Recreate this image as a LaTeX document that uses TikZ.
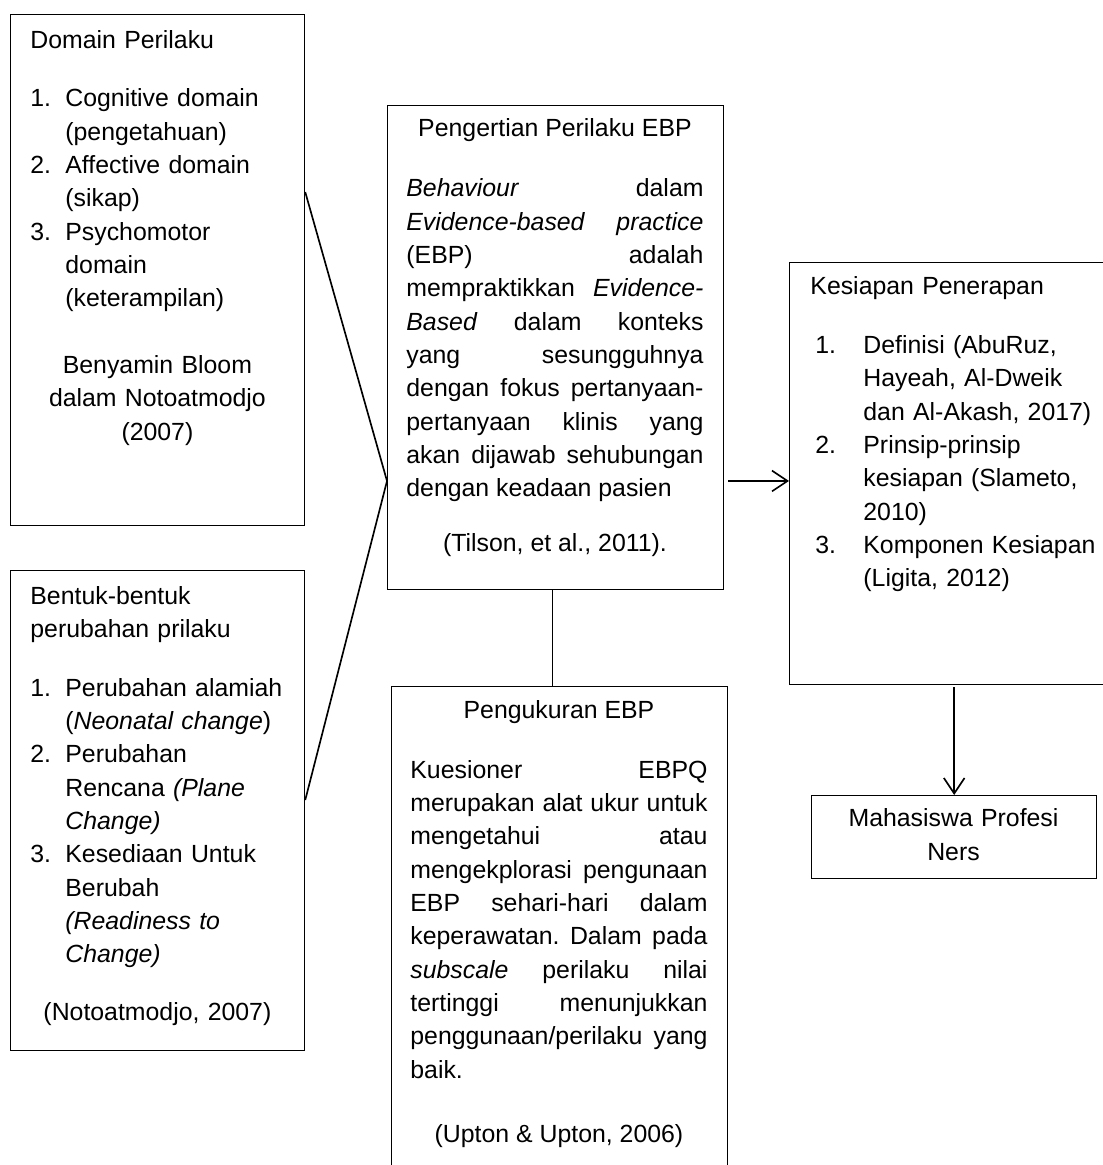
\documentclass[tikz,border=0pt]{standalone}
\usepackage{fontspec}
\setmainfont{Liberation Sans}
\usetikzlibrary{arrows.meta}
\tikzset{
  pbox/.style={draw, line width=0.6pt, inner sep=0pt, anchor=north west},
  ptext/.style={inner sep=0pt, anchor=base west, font=\fontsize{12}{16.1}\selectfont},
  link/.style={line width=0.8pt},
  arr/.style={line width=0.8pt, -{Straight Barb[length=7.5pt,width=10pt]}}
}
\newcommand{\itm}[3]{\par\hangindent=#1\hangafter=1\noindent\makebox[#1][l]{#2}#3}
\frenchspacing
\hyphenpenalty=10000
\tolerance=10000
\hbadness=10000

\begin{document}
\begin{tikzpicture}[x=0.483pt, y=-0.483pt]
  \useasboundingbox (0,0) rectangle (1102,1165);
  % boxes
  \node[pbox, minimum width=142pt, minimum height=246.8pt] (A) at (10,14) {};
  \node[pbox, minimum width=142pt, minimum height=231.8pt] (B) at (10,570) {};
  \node[pbox, minimum width=162.3pt, minimum height=233.8pt] (C) at (387,105) {};
  \node[pbox, minimum width=162.3pt, minimum height=238.6pt] (D) at (391,686) {};
  \node[pbox, minimum width=154.1pt, minimum height=203.8pt] (E) at (789,262) {};
  \node[pbox, minimum width=137.7pt, minimum height=40.1pt] (F) at (811,795) {};

  % texts
  \node[ptext, text width=122.7pt, align=left] (tA) at (30,48.3) {Domain Perilaku\par\vspace{12.1pt}
    \itm{16.9pt}{1.}{Cognitive domain\newline(pengetahuan)}
    \itm{16.9pt}{2.}{Affective domain\newline(sikap)}
    \itm{16.9pt}{3.}{Psychomotor\newline domain\newline(keterampilan)}\par\vspace{16.1pt}
    {\centering Benyamin Bloom\\dalam Notoatmodjo\\(2007)\par}};
  \node[ptext, text width=122.7pt, align=left] (tB) at (30,604.3) {Bentuk-bentuk\\perubahan prilaku\par\vspace{12.1pt}
    \itm{16.9pt}{1.}{Perubahan alamiah\newline(\textit{Neonatal change})}
    \itm{16.9pt}{2.}{Perubahan\newline Rencana \textit{(Plane}\newline\textit{Change)}}
    \itm{16.9pt}{3.}{Kesediaan Untuk\newline Berubah\newline\textit{(Readiness to}\newline\textit{Change)}}\par\vspace{12pt}
    {\centering (Notoatmodjo, 2007)\par}};
  \node[ptext, text width=143.5pt, align=justify] (tC) at (406,136.7) {{\centering Pengertian Perilaku EBP\par}\vspace{12.9pt}
    \textit{Behaviour} dalam\linebreak \textit{Evidence-based practice}\linebreak (EBP) adalah\linebreak memprakti\-kkan \textit{Evidence-}\linebreak\textit{Based} dalam konteks\linebreak yang sesungguhnya\linebreak dengan fokus pertanyaan-\linebreak pertanyaan klinis yang\linebreak akan dijawab sehubungan\linebreak dengan keadaan pasien\par\vspace{10.5pt}
    {\centering (Tilson, et al., 2011).\par}};
  \node[ptext, text width=143.5pt, align=justify] (tD) at (410,718) {{\centering Pengukuran EBP\par}\vspace{12.9pt}
    Kuesioner EBPQ\linebreak merupakan alat ukur untuk\linebreak mengetahui atau\linebreak mengekplorasi pengunaan\linebreak EBP sehari-hari dalam\linebreak keperawatan. Dalam pada\linebreak \textit{subscale} perilaku nilai\linebreak tertinggi menunjukkan\linebreak penggunaan/perilaku yang\linebreak baik.\par\vspace{14.8pt}
    {\centering (Upton \& Upton, 2006)\par}};
  \node[ptext, text width=140pt, align=left] (tE) at (810,295) {Kesiapan Penerapan\par\vspace{12.1pt}
    \itm{25.6pt}{\hspace*{2.4pt}1.}{Definisi (AbuRuz,\newline Hayeah, Al-Dweik\newline dan Al-Akash, 2017)}
    \itm{25.6pt}{\hspace*{2.4pt}2.}{Prinsip-prinsip\newline kesiapan (Slameto,\newline 2010)}
    \itm{25.6pt}{\hspace*{2.4pt}3.}{Komponen Kesiapan\newline(Ligita, 2012)}\par};
  \node[ptext, anchor=base, text width=137pt, align=center] (tF) at (953.5,826.7) {Mahasiswa Profesi\\Ners};

  % connectors
  \coordinate (aU) at ([yshift=-86pt]A.north east);
  \coordinate (vtip) at ([yshift=-181.6pt]C.north west);
  \coordinate (bL) at ([yshift=-111.1pt]B.north east);
  \draw[link] (aU) -- (vtip) -- (bL);
  \draw[arr] ([xshift=2pt]C.east |- vtip) -- (E.west |- vtip);
  \draw[link] ([xshift=-1.5pt]C.south) -- ([xshift=-1.5pt]C.south |- D.north);
  \draw[arr] ([yshift=-1pt]F.north |- E.south) -- (F.north);
\end{tikzpicture}
\end{document}
